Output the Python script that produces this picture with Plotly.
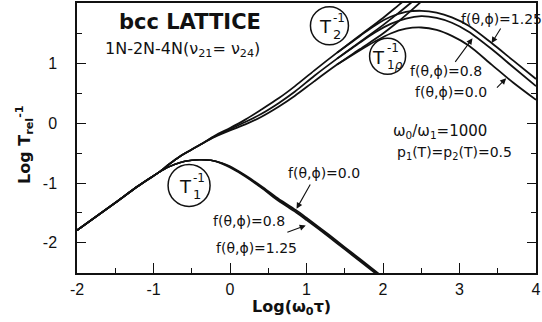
import plotly.graph_objects as go

# ---- data: log relaxation rates vs log(w0*tau) ----
# T1^-1 curves (three orientations, nearly coincident)
t1_x = [-2.0, -1.5, -1.2, -0.94, -0.8, -0.66, -0.5, -0.4, -0.25, -0.1, 0.0, 0.2, 0.42, 0.6, 0.86, 1.0, 1.29, 1.5, 1.7, 1.95]
t1_f00 = [-1.79, -1.33, -1.05, -0.83, -0.73, -0.66, -0.62, -0.61, -0.62, -0.67, -0.72, -0.87, -1.06, -1.23, -1.45, -1.58, -1.86, -2.07, -2.27, -2.52]
t1_f08 = [-1.79, -1.33, -1.05, -0.83, -0.73, -0.66, -0.62, -0.61, -0.62, -0.67, -0.73, -0.88, -1.08, -1.25, -1.47, -1.60, -1.88, -2.09, -2.29, -2.54]
t1_f125 = [-1.79, -1.33, -1.05, -0.83, -0.73, -0.66, -0.62, -0.61, -0.62, -0.68, -0.74, -0.89, -1.09, -1.27, -1.49, -1.62, -1.90, -2.11, -2.31, -2.56]

# T2^-1 curves
t2_x = [-2.0, -1.5, -1.2, -0.94, -0.8, -0.66, -0.5, -0.35, -0.2, 0.0, 0.2, 0.4, 0.64, 0.85, 1.1, 1.4, 1.7, 2.0, 2.2, 2.4, 2.6]
t2_f125 = [-1.79, -1.33, -1.05, -0.83, -0.69, -0.56, -0.44, -0.33, -0.21, -0.08, 0.06, 0.22, 0.42, 0.62, 0.88, 1.18, 1.47, 1.76, 1.97, 2.18, 2.39]
t2_f08 = [-1.79, -1.33, -1.05, -0.83, -0.69, -0.56, -0.44, -0.33, -0.22, -0.10, 0.02, 0.15, 0.34, 0.53, 0.79, 1.08, 1.36, 1.64, 1.84, 2.05, 2.26]
t2_f00 = [-1.79, -1.33, -1.05, -0.83, -0.69, -0.56, -0.44, -0.33, -0.23, -0.12, -0.02, 0.10, 0.28, 0.46, 0.70, 0.98, 1.24, 1.50, 1.70, 1.92, 2.15]

# T1rho^-1 curves (leave the T2 curves near log(w0*tau) ~ 2)
t1r_x = [1.4, 1.7, 1.9, 2.1, 2.3, 2.5, 2.7, 2.9, 3.12, 3.42, 3.7, 4.0]
t1r_f125 = [1.18, 1.46, 1.64, 1.78, 1.86, 1.88, 1.85, 1.77, 1.63, 1.34, 1.05, 0.74]
t1r_f08 = [1.08, 1.35, 1.52, 1.66, 1.75, 1.79, 1.76, 1.68, 1.53, 1.24, 0.94, 0.62]
t1r_f00 = [0.98, 1.22, 1.37, 1.50, 1.58, 1.60, 1.56, 1.46, 1.30, 0.98, 0.68, 0.39]

x_ticks = [-2, -1, 0, 1, 2, 3, 4]
x_tick_text = ["-2", "-1", "0", "1", "2", "3", "4"]
y_ticks = [-2, -1, 0, 1]
y_tick_text = ["-2", "-1", "0", "1"]

TICK_FONT = "Liberation Sans"
FONT = "DejaVu Sans"
INK = "#111111"

fig = go.Figure()


def curve(x, y, w=1.8):
    fig.add_trace(go.Scatter(x=x, y=y, mode="lines",
                             line=dict(color=INK, width=w, shape="spline", smoothing=0.8),
                             showlegend=False, hoverinfo="skip", cliponaxis=True))


for ys in (t1_f00, t1_f08, t1_f125):
    curve(t1_x, ys, 1.6)
for ys in (t2_f125, t2_f08, t2_f00):
    curve(t2_x, ys)
for ys in (t1r_f125, t1r_f08, t1r_f00):
    curve(t1r_x, ys)

ann = []


def text(x, y, s, size=14, bold=False, xanchor="center", yanchor="middle", xref="x", yref="y", angle=0,
         family=FONT):
    if bold:
        s = "<b>" + s + "</b>"
    ann.append(dict(x=x, y=y, xref=xref, yref=yref, text=s, showarrow=False,
                    xanchor=xanchor, yanchor=yanchor, textangle=angle,
                    font=dict(family=family, size=size, color=INK)))


def arrow(x, y, ax, ay):
    ann.append(dict(x=x, y=y, ax=ax, ay=ay, xref="x", yref="y", axref="x", ayref="y",
                    text="", showarrow=True, arrowhead=2, arrowsize=1.1,
                    arrowwidth=1.1, arrowcolor=INK))


# titles in the plot
text(-1.48, 1.70, "bcc LATTICE", size=21, bold=True, xanchor="left")
text(-1.66, 1.23, "1N-2N-4N(ν<sub>21</sub>= ν<sub>24</sub>)", size=16, xanchor="left")

# curve labels
text(3.55, 1.75, "f(θ,ϕ)=1.25")
text(2.82, 0.88, "f(θ,ϕ)=0.8")
text(2.89, 0.52, "f(θ,ϕ)=0.0")
text(2.74, -0.13, "ω<sub>0</sub>/ω<sub>1</sub>=1000", size=15)
text(2.93, -0.50, "p<sub>1</sub>(T)=p<sub>2</sub>(T)=0.5", size=14)
text(1.23, -0.84, "f(θ,ϕ)=0.0")
text(0.25, -1.64, "f(θ,ϕ)=0.8")
text(0.35, -2.08, "f(θ,ϕ)=1.25")

arrow(3.42, 1.34, 3.55, 1.61)
arrow(3.17, 1.42, 2.93, 1.00)
arrow(3.61, 0.75, 3.47, 0.57)
arrow(0.87, -1.43, 1.06, -1.00)
arrow(0.99, -1.71, 0.73, -1.83)

# circled rate symbols
shapes = []
PX = 1 / 76.7   # data units per pixel, x
PY = 1 / 60.3   # data units per pixel, y


def circled(cx, cy, r, sub, shift=0, subsize=13):
    shapes.append(dict(type="circle", xref="x", yref="y", xsizemode="pixel", ysizemode="pixel",
                       xanchor=cx, yanchor=cy, x0=-r, x1=r, y0=-r, y1=r,
                       line=dict(color=INK, width=1.5)))
    text(cx - (4 + shift) * PX, cy - 1 * PY, "T", size=18, xanchor="center")
    text(cx + (2 - shift) * PX, cy + 8 * PY, "-1", size=12, xanchor="left")
    text(cx + (2 - shift) * PX, cy - 9 * PY, sub, size=subsize, xanchor="left")


circled(1.30, 1.63, 19, "2")
circled(2.06, 1.12, 18, "1<i>ρ</i>", shift=5, subsize=12)
circled(-0.535, -1.04, 21, "1")

# axis titles
text(0.80, -0.129, "Log(ω<sub>0</sub>τ)", size=16, bold=True, xref="x", yref="paper", yanchor="middle")
text(-0.113, -0.36, "Log T<sub>rel</sub><sup>-1</sup>", size=16, bold=True, xref="paper", angle=-90)

fig.update_layout(
    width=542, height=322,
    margin=dict(l=77, r=5, t=1, b=49),
    paper_bgcolor="white", plot_bgcolor="white",
    annotations=ann, shapes=shapes,
    font=dict(family=TICK_FONT, size=15, color=INK),
)
fig.update_xaxes(range=[-2, 4], tickvals=x_ticks, ticktext=x_tick_text,
                 ticks="inside", ticklen=10, tickwidth=1.3, tickcolor=INK,
                 minor=dict(dtick=0.5, tick0=0, ticks="inside", ticklen=5, tickwidth=1.2, tickcolor=INK),
                 showline=True, linecolor=INK, linewidth=1.5, mirror=True,
                 showgrid=False, zeroline=False, ticklabelstandoff=1,
                 tickfont=dict(family=TICK_FONT, size=16, color=INK))
fig.update_yaxes(range=[-2.504, 2.01], tickvals=y_ticks, ticktext=y_tick_text,
                 ticks="inside", ticklen=9, tickwidth=1.3, tickcolor=INK,
                 minor=dict(dtick=0.5, tick0=0, ticks="inside", ticklen=5, tickwidth=1.2, tickcolor=INK),
                 showline=True, linecolor=INK, linewidth=1.5, mirror="ticks",
                 showgrid=False, zeroline=False, ticklabelstandoff=15,
                 tickfont=dict(family=TICK_FONT, size=16, color=INK))

fig.write_html("out.html")
